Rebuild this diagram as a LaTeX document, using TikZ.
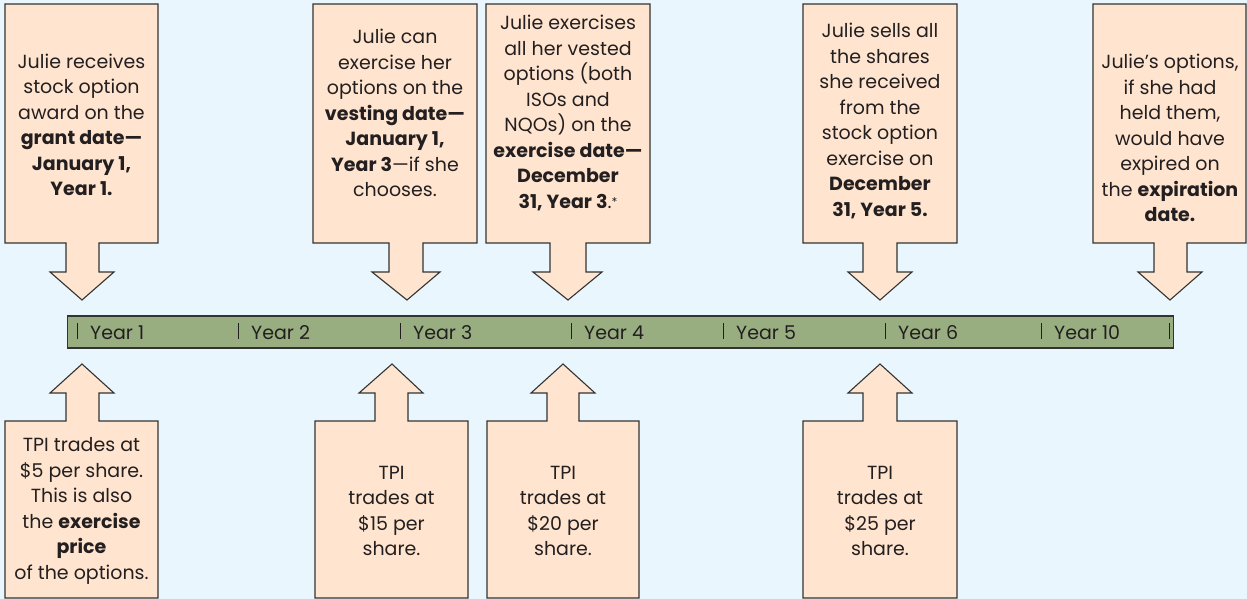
\documentclass[tikz,border=0pt]{standalone}
\usepackage{fontspec}
\setmainfont{Poppins}
\definecolor{bg}{HTML}{EAF6FD}
\definecolor{boxfill}{HTML}{FFE5CF}
\definecolor{bar}{HTML}{98AD80}
\definecolor{edge}{HTML}{333333}
\definecolor{ink}{HTML}{231F20}
\tikzset{
  arrowbox/.style={fill=boxfill,draw=edge,line width=1.1pt,line join=miter},
  boxtext/.style={align=center,text=ink,font=\fontsize{19}{25.5}\selectfont,inner sep=0pt},
  yeartext/.style={anchor=base west,text=ink,font=\fontsize{19}{20}\selectfont,inner sep=0pt},
  tick/.style={draw=ink,line width=1pt}
}
\newcommand\dnbox[7]{%
  \path[arrowbox] (#1,4) -- (#2,4) -- (#2,243) -- (#4,243) -- (#4,272) -- (#6,272) -- (#7,300)
    -- (#5,272) -- (#3,272) -- (#3,243) -- (#1,243) -- cycle;}
\newcommand\upbox[7]{%
  \path[arrowbox] (#1,598) -- (#1,421) -- (#3,421) -- (#3,393) -- (#5,393) -- (#7,364)
    -- (#6,393) -- (#4,393) -- (#4,421) -- (#2,421) -- (#2,598) -- cycle;}
\begin{document}
\begin{tikzpicture}[x=1pt,y=-1pt]
\path[fill=bg] (0,0) rectangle (1247,599);
\useasboundingbox (0,0) rectangle (1247,599);
% top boxes
\dnbox{5}{158}{66}{99}{50}{114}{82}
\dnbox{313}{477}{389}{423}{372}{440}{407}
\dnbox{486}{650}{550}{586}{533}{602}{568}
\dnbox{803}{957}{863}{897}{848}{912}{880}
\dnbox{1093}{1246}{1154}{1187}{1138}{1202}{1170}
\node[boxtext] (t1) at (81.5,125) {Julie receives\\stock option\\award on the\\\textbf{grant date—}\\\textbf{January 1,}\\\textbf{Year 1.}};
\node[boxtext] (t2) at (395,113) {Julie can\\exercise her\\options on the\\\textbf{vesting date—}\\\textbf{January 1,}\\\textbf{Year 3}—if she\\chooses.};
\node[boxtext] (t3) at (568,113) {Julie exercises\\all her vested\\options (both\\ISOs and\\NQOs) on the\\\textbf{exercise date—}\\\textbf{December}\\\textbf{31, Year 3}.\raisebox{0.2ex}{\fontsize{12}{12}\selectfont *}};
\node[boxtext] (t4) at (880,121) {Julie sells all\\the shares\\she received\\from the\\stock option\\exercise on\\\textbf{December}\\\textbf{31, Year 5.}};
\node[boxtext] (t5) at (1170,138) {Julie’s options,\\if she had\\held them,\\would have\\expired on\\the \textbf{expiration}\\\textbf{date.}};
% timeline
\node[draw=edge,fill=bar,line width=1.1pt,minimum width=1106pt,minimum height=32pt,inner sep=0pt] (bar) at (620.5,332) {};
\foreach \x/\lab [count=\i] in {77/Year 1,238/Year 2,400/Year 3,571/Year 4,723/Year 5,885/Year 6,1041/Year 10}{
  \draw[tick] (\x,323) -- (\x,339);
  \node[yeartext] (y\i) at (\x+13,339) {\lab};
}
\draw[tick] (1169,323) -- (1169,339);
% bottom boxes
\upbox{5}{158}{66}{99}{50}{114}{82}
\upbox{315}{468}{375}{408}{359}{423}{392}
\upbox{487}{639}{547}{579}{531}{595}{563}
\upbox{803}{957}{863}{897}{848}{912}{880}
\node[boxtext] (b1) at (81.5,511) {TPI trades at\\\$5 per share.\\This is also\\the \textbf{exercise}\\\textbf{price}\\of the options.};
\node[boxtext] (b2) at (391.5,511) {TPI\\trades at\\\$15 per\\share.};
\node[boxtext] (b3) at (563,511) {TPI\\trades at\\\$20 per\\share.};
\node[boxtext] (b4) at (880,511) {TPI\\trades at\\\$25 per\\share.};
\end{tikzpicture}
\end{document}
